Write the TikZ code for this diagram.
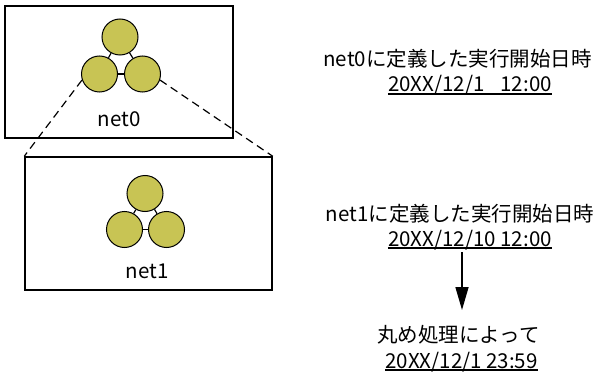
\documentclass[tikz,border=0pt]{standalone}
\usepackage{fontspec}
\setmainfont{Noto Sans CJK JP}
\usetikzlibrary{arrows.meta}
\definecolor{ballfill}{RGB}{200,196,84}
\tikzset{
  box/.style={draw, line width=1.5pt, inner sep=0pt},
  ball/.style={circle, draw, line width=1pt, fill=ballfill, minimum size=36pt, inner sep=0pt},
  link/.style={line width=1.2pt},
  zoomline/.style={line width=1.2pt, dash pattern=on 8pt off 5pt},
  txt/.style={font=\fontsize{20.5}{24}\selectfont, inner sep=0pt, anchor=base},
  uline/.style={line width=1.3pt},
  arr/.style={line width=1.5pt, -{Triangle[length=23pt,width=13pt]}}
}
\begin{document}
\begin{tikzpicture}[x=1pt,y=-1pt]
\useasboundingbox (0,0) rectangle (604,374);
% boxes
\node[box, minimum width=228pt, minimum height=132pt] (b0) at (119,72) {};
\node[box, minimum width=247pt, minimum height=133pt] (b1) at (148.5,223.5) {};
% net0 balls
\node[ball] (c0t) at (120,37) {};
\node[ball] (c0l) at (99.5,74) {};
\node[ball] (c0r) at (142.5,74) {};
\draw[link] (c0t) -- (c0l);
\draw[link] (c0t) -- (c0r);
\draw[link] (c0l) -- (c0r);
% net1 balls
\node[ball] (c1t) at (145,193.5) {};
\node[ball] (c1l) at (124.5,229.5) {};
\node[ball] (c1r) at (166.5,229.5) {};
\draw[link] (c1t) -- (c1l);
\draw[link] (c1t) -- (c1r);
\draw[link] (c1l) -- (c1r);
% labels
\node[txt] (l0) at (119,126.5) {net0};
\node[txt] (l1) at (147,278) {net1};
% zoom lines
\draw[zoomline] (c0l.199) -- (b1.north west);
\draw[zoomline] (c0r.-19) -- (b1.north east);
% right texts
\node[txt] (t0) at (457.5,67) {net0に定義した実行開始日時};
\node[txt] (d0) at (470,92) {20XX/12/1\hphantom{0} 12:00};
\draw[uline] ([yshift=-2pt]d0.base west) -- ([yshift=-2pt]d0.base east);
\node[txt] (t1) at (460,221) {net1に定義した実行開始日時};
\node[txt] (d1) at (470,246) {20XX/12/10 12:00};
\draw[uline] ([yshift=-2pt]d1.base west) -- ([yshift=-2pt]d1.base east);
\node[txt] (t2) at (458.5,342) {丸め処理によって};
\node[txt] (d2) at (461.5,368) {20XX/12/1 23:59};
\draw[uline] ([yshift=-2pt]d2.base west) -- ([yshift=-2pt]d2.base east);
% arrow
\coordinate (a1) at (462,252);
\coordinate (a2) at (462,310);
\draw[arr] (a1) -- (a2);
\end{tikzpicture}
\end{document}
